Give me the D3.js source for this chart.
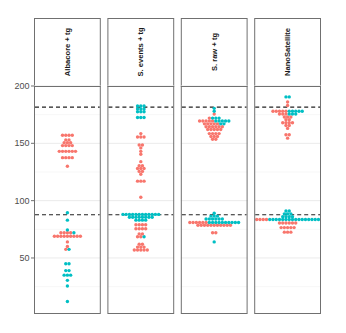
<!DOCTYPE html>
<html><head><meta charset="utf-8">
<script src="https://cdn.jsdelivr.net/npm/d3@7"></script>
<style>body{margin:0;background:#fff}svg{display:block}</style>
</head><body>
<svg id="c" width="346" height="333"></svg>
<script>
const panels = ["Albacore + tg", "S. events + tg", "S. raw + tg", "NanoSatellite"];
const groups = ["A", "B"];
const groupColors = ["#F8766D", "#00BFC4"];
// [value, number of dots]
const albacoreA = [[157,4],[153,2],[150.5,3],[148,4],[143,6],[137.5,4],[130,1],[72,4],[69,9],[64,1],[60,1],[57.5,1]];
const albacoreB = [[89.5,1],[83,1],[74.5,1],[72,1],[57.5,1],[45,2],[39,2],[35,3],[30.5,1],[25.5,1],[12,1]];
const eventsA = [[158.5,1],[155.5,3],[148.5,2],[146,1],[143,1],[140.5,1],[134,1],[130.5,2],[128,3],[125.5,2],[123,1],[117,3],[103,1],[79,4],[75.5,4],[71,2],[68.5,2],[62,2],[59.5,3],[57,5]];
const eventsB = [[182.5,3],[180,3],[177.5,3],[172.5,3],[88,12],[85.5,8],[83,4],[68.5,1]];
const rawA = [[175.5,1],[172,1],[169.5,5],[167,5],[164.5,6],[162,5],[158.5,4],[156,3],[153.5,2],[81,6],[78.5,11],[72,2]];
const rawB = [[180.5,1],[178,1],[172,3],[169.5,5],[167,2],[89,1],[86.5,3],[84,6],[81,10],[64,1]];
const nanoA = [[186,1],[183,1],[178,5],[175.5,3],[173,3],[170.5,2],[168,4],[165.5,2],[163,1],[157.5,2],[154.5,1],[83.5,4],[80.5,6],[76.5,5],[72.5,3]];
const nanoB = [[190.5,2],[178,5],[175.5,3],[91,2],[88.5,3],[86,4],[83.5,16]];
const panelData = [[albacoreA, albacoreB],[eventsA, eventsB],[rawA, rawB],[nanoA, nanoB]];
const thresholds = [181.5, 87.7];
const yTicks = [50, 100, 150, 200];
const yMinor = [25, 75, 125, 175];

const svg = d3.select("#c");
const topY = 18, stripH = 68, bottomY = 313, leftX = 34, rightX = 321;
const y = d3.scaleLinear().domain([2, 200]).range([bottomY, topY + stripH]);
const x = d3.scaleBand().domain(panels).range([leftX, rightX]).paddingInner(0.09);
const binwidth = 2.4, spacing = 3.25, r = 1.7;

function dotdensity(items) {
  items.sort((a, b) => a.v - b.v || a.g - b.g);
  const bins = [];
  let i = 0;
  while (i < items.length) {
    const start = items[i].v, bin = [];
    while (i < items.length && items[i].v < start + binwidth - 1e-9) { bin.push(items[i]); i++; }
    bin.sort((a, b) => a.g - b.g);
    bins.push({center: (bin[0].v + bin[bin.length - 1].v) / 2, items: bin});
  }
  return bins;
}

panels.forEach((p, pi) => {
  const x0 = x(p), w = x.bandwidth(), cx = x0 + w / 2;
  const g = svg.append("g");
  g.append("rect").attr("x", x0 + 0.5).attr("y", topY + 0.5).attr("width", w - 1).attr("height", stripH)
    .attr("fill", "#fff").attr("stroke", "#707070").attr("stroke-width", 1);
  g.append("text").attr("transform", `translate(${cx + 2.7},${topY + stripH / 2}) rotate(-90)`)
    .attr("text-anchor", "middle").attr("font-family", "Liberation Sans, Arial, sans-serif")
    .attr("font-size", 7.6).attr("font-weight", "bold").attr("fill", "#1a1a1a").text(p);
  yMinor.forEach(t => g.append("line").attr("x1", x0).attr("x2", x0 + w).attr("y1", y(t)).attr("y2", y(t))
    .attr("stroke", "#f2f2f2").attr("stroke-width", 0.6));
  yTicks.forEach(t => g.append("line").attr("x1", x0).attr("x2", x0 + w).attr("y1", y(t)).attr("y2", y(t))
    .attr("stroke", "#ebebeb").attr("stroke-width", 1));
  thresholds.forEach(t => g.append("line").attr("x1", x0 + 1).attr("x2", x0 + w - 1).attr("y1", y(t)).attr("y2", y(t))
    .attr("stroke", "#222").attr("stroke-width", 1.2).attr("stroke-dasharray", "4,3"));
  const items = [];
  panelData[pi].forEach((arr, gi) => arr.forEach(([v, n]) => { for (let k = 0; k < n; k++) items.push({v, g: gi}); }));
  const bins = dotdensity(items);
  const dots = [];
  bins.forEach(b => {
    const m = b.items.length;
    b.items.forEach((it, k) => dots.push({cx: cx + (k - (m - 1) / 2) * spacing, cy: y(b.center), g: it.g}));
  });
  g.selectAll("circle").data(dots).join("circle")
    .attr("cx", d => d.cx).attr("cy", d => d.cy).attr("r", r)
    .attr("fill", d => groupColors[d.g]);
  g.append("rect").attr("x", x0 + 0.5).attr("y", topY + stripH + 0.5).attr("width", w - 1).attr("height", bottomY - topY - stripH)
    .attr("fill", "none").attr("stroke", "#707070").attr("stroke-width", 1);
});

const ax = svg.append("g");
yTicks.forEach(t => {
  ax.append("line").attr("x1", leftX - 3).attr("x2", leftX).attr("y1", y(t)).attr("y2", y(t))
    .attr("stroke", "#4d4d4d").attr("stroke-width", 0.8);
  ax.append("text").attr("x", leftX - 4.5).attr("y", y(t)).attr("dy", "0.35em").attr("text-anchor", "end")
    .attr("font-family", "Liberation Sans, Arial, sans-serif").attr("font-size", 9).attr("fill", "#4d4d4d").text(t);
});
</script>
</body></html>
